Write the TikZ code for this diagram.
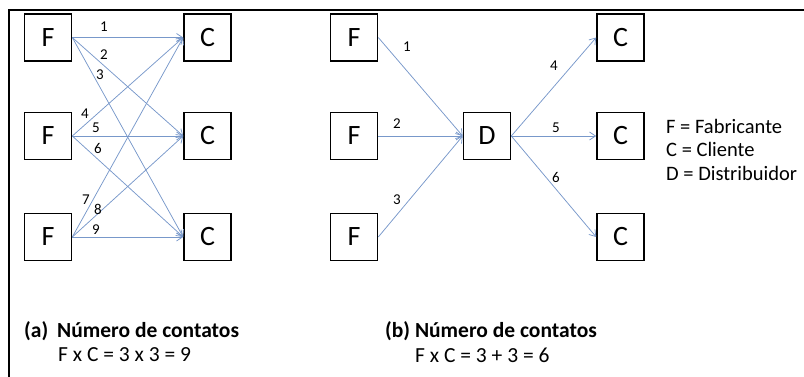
\documentclass[tikz,border=0pt]{standalone}
\usepackage{fontspec}
\setmainfont{Carlito}
\usetikzlibrary{arrows.meta}
\definecolor{arr}{RGB}{120,152,202}
\tikzset{
  x=1pt, y=-1pt,
  box/.style={draw=black, line width=1.6pt, minimum width=47pt, minimum height=47pt, inner sep=0pt, font=\fontsize{28}{28}\selectfont},
  conn/.style={draw=arr, line width=0.75pt, -{Straight Barb[length=6pt,width=8pt,line width=0.75pt]}},
  num/.style={inner sep=0pt, font=\fontsize{15}{15}\selectfont},
  txt/.style={inner sep=0pt, anchor=west, font=\fontsize{21.5}{21.5}\selectfont}
}
\begin{document}
\begin{tikzpicture}
\useasboundingbox (0,0) rectangle (804,377);
% frame
\draw[line width=1.6pt] (9,377) |- (804,10);
% left panel
\node[box] (lf1) at (48,37.5) {F};
\node[box] (lf2) at (48,136) {F};
\node[box] (lf3) at (48,237) {F};
\node[box] (lc1) at (207.5,37.5) {C};
\node[box] (lc2) at (207.5,136) {C};
\node[box] (lc3) at (207.5,237) {C};
\draw[conn] (lf1.east) -- (lc1.west);
\draw[conn] (lf1.east) -- (lc2.west);
\draw[conn] (lf1.east) -- (lc3.west);
\draw[conn] (lf2.east) -- (lc1.west);
\draw[conn] (lf2.east) -- (lc2.west);
\draw[conn] (lf2.east) -- (lc3.west);
\draw[conn] (lf3.east) -- (lc1.west);
\draw[conn] (lf3.east) -- (lc2.west);
\draw[conn] (lf3.east) -- (lc3.west);
\node[num] (n1) at (104,27) {1};
\node[num] (n2) at (104,55) {2};
\node[num] (n3) at (100,75) {3};
\node[num] (n4) at (85,114) {4};
\node[num] (n5) at (96,128) {5};
\node[num] (n6) at (98,148) {6};
\node[num] (n7) at (86,200) {7};
\node[num] (n8) at (98,209) {8};
\node[num] (n9) at (96,230) {9};
% right panel
\node[box] (rf1) at (354,37.5) {F};
\node[box] (rf2) at (354,136) {F};
\node[box] (rf3) at (354,237) {F};
\node[box] (d) at (487,136) {D};
\node[box] (rc1) at (620.5,37.5) {C};
\node[box] (rc2) at (620.5,136) {C};
\node[box] (rc3) at (620.5,237) {C};
\draw[conn] (rf1.east) -- (d.west);
\draw[conn] (rf2.east) -- (d.west);
\draw[conn] (rf3.east) -- (d.west);
\draw[conn] (d.east) -- (rc1.west);
\draw[conn] (d.east) -- (rc2.west);
\draw[conn] (d.east) -- (rc3.west);
\node[num] (m1) at (407,47) {1};
\node[num] (m2) at (397,124) {2};
\node[num] (m3) at (397,200) {3};
\node[num] (m4) at (554,66) {4};
\node[num] (m5) at (556,128) {5};
\node[num] (m6) at (556,177) {6};
% legend
\node[txt, font=\fontsize{20.5}{23.5}\selectfont, align=left, anchor=north west] (leg) at (666,119) {F = Fabricante\\C = Cliente\\D = Distribuidor};
% captions
\node[txt] (capa) at (24,331) {\bfseries (a)\hspace{9pt}Número de contatos};
\node[txt] (eqa) at (58,355) {F x C = 3 x 3 = 9};
\node[txt] (capb) at (385,331) {\bfseries (b) Número de contatos};
\node[txt] (eqb) at (415,355) {F x C = 3 + 3 = 6};
\end{tikzpicture}
\end{document}
